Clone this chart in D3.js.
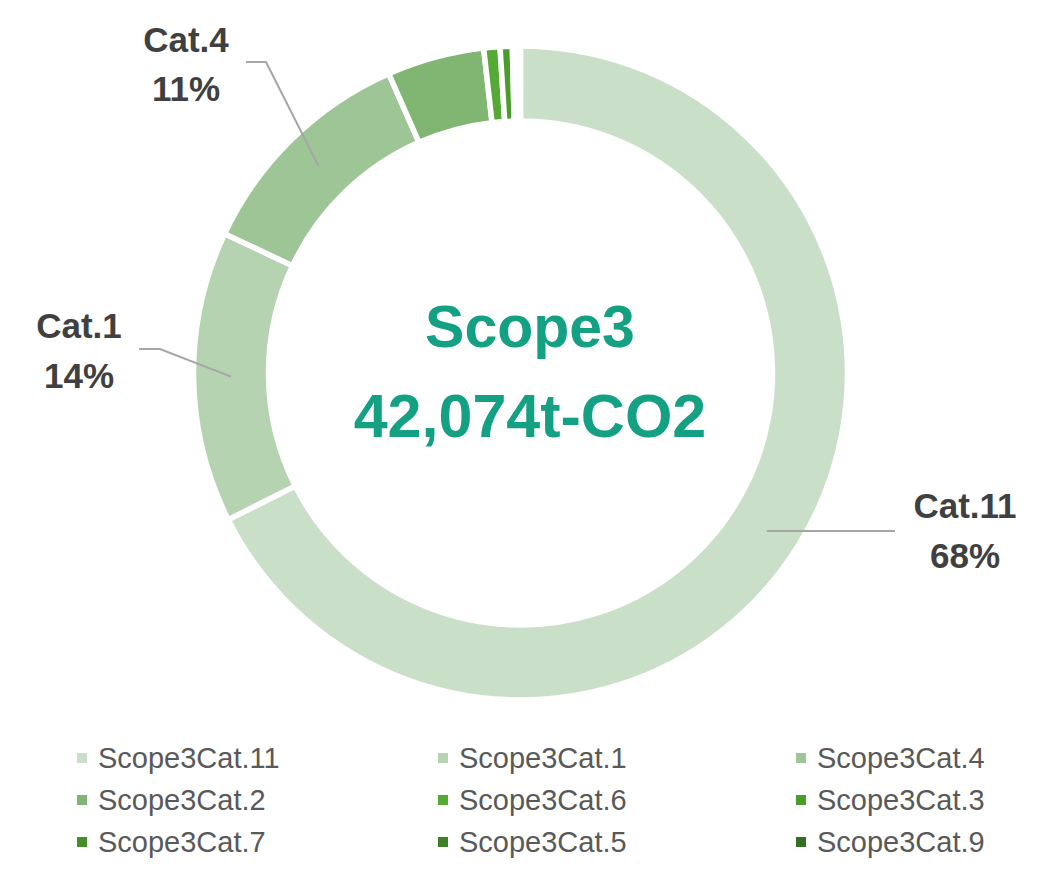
<!DOCTYPE html>
<html>
<head>
<meta charset="utf-8">
<script src="https://cdn.jsdelivr.net/npm/d3@7/dist/d3.min.js"></script>
<style>
  html, body { margin: 0; padding: 0; background: #ffffff; }
  svg { display: block; }
</style>
</head>
<body>
<div id="chart"></div>
<script>
// ---- data ----
const categories = ["Scope3Cat.11", "Scope3Cat.1", "Scope3Cat.4", "Scope3Cat.2", "Scope3Cat.6", "Scope3Cat.3", "Scope3Cat.7", "Scope3Cat.5", "Scope3Cat.9"];
const values = [28442, 6059, 4796, 2020, 337, 252, 80, 55, 33];
const colors = ["#cadfc8", "#b5d3b1", "#9dc595", "#80b672", "#55aa35", "#4a9d2d", "#448f29", "#3d8026", "#336f22"];
const centerTitle = "Scope3";
const centerTotal = "42,074t-CO2";
// labelled slices (others unlabeled)
const labelled = ["Scope3Cat.11", "Scope3Cat.1", "Scope3Cat.4"];

// ---- layout ----
const W = 1054, H = 888;
const cx = 520.5, cy = 373;
const rOuter = 327, rInner = 252;
const labelLayout = {
  "Scope3Cat.11": { startY: 531, elbow: [895, 531], end: [895, 531], tx: 965, ty1: 518, ty2: 568 },
  "Scope3Cat.1":  { elbow: [160, 349], end: [139, 349], tx: 79,  ty1: 338, ty2: 388 },
  "Scope3Cat.4":  { elbow: [266, 62],  end: [246, 62],  tx: 186, ty1: 52,  ty2: 101 }
};

const svg = d3.select("#chart").append("svg")
  .attr("width", W).attr("height", H);

const data = categories.map((c, i) => ({ name: c, value: values[i], color: colors[i] }));
const total = d3.sum(values);

const pie = d3.pie().sort(null).value(d => d.value);
const arcs = pie(data);
const arc = d3.arc().innerRadius(rInner).outerRadius(rOuter);
const midArc = d3.arc().innerRadius((rInner + rOuter) / 2).outerRadius((rInner + rOuter) / 2);

const g = svg.append("g").attr("transform", `translate(${cx},${cy})`);
g.selectAll("path.slice").data(arcs).enter().append("path")
  .attr("class", "slice")
  .attr("d", arc)
  .attr("fill", d => d.data.color)
  .attr("stroke", "#ffffff")
  .attr("stroke-width", 5.5)
  .attr("stroke-linejoin", "miter");

// center text
svg.append("text")
  .attr("x", 530).attr("y", 347)
  .attr("text-anchor", "middle")
  .attr("font-family", "Liberation Sans, Arial, sans-serif")
  .attr("font-weight", "bold")
  .attr("font-size", 59)
  .attr("fill", "#14a083")
  .text(centerTitle);
svg.append("text")
  .attr("x", 530).attr("y", 437)
  .attr("text-anchor", "middle")
  .attr("font-family", "Liberation Sans, Arial, sans-serif")
  .attr("font-weight", "bold")
  .attr("font-size", 61)
  .attr("fill", "#14a083")
  .text(centerTotal);

// labels + leader lines
const fmtPct = v => Math.round(v / total * 100) + "%";
arcs.filter(a => labelled.includes(a.data.name)).forEach(a => {
  const L = labelLayout[a.data.name];
  const c = midArc.centroid(a);
  const start = [cx + c[0], L.startY !== undefined ? L.startY : cy + c[1]];
  svg.append("polyline")
    .attr("points", [start, L.elbow, L.end].map(p => p.join(",")).join(" "))
    .attr("fill", "none")
    .attr("stroke", "#a6a6a6")
    .attr("stroke-width", 2);
  const t = svg.append("g")
    .attr("font-family", "Liberation Sans, Arial, sans-serif")
    .attr("font-weight", "bold")
    .attr("font-size", 35)
    .attr("fill", "#404040")
    .attr("text-anchor", "middle");
  t.append("text").attr("x", L.tx).attr("y", L.ty1).text(a.data.name.replace("Scope3", ""));
  t.append("text").attr("x", L.tx).attr("y", L.ty2).text(fmtPct(a.data.value));
});

// legend
const colX = [77, 438, 796];
const rowY = [758, 800, 842];
const leg = svg.append("g")
  .attr("font-family", "Liberation Sans, Arial, sans-serif")
  .attr("font-size", 29)
  .attr("fill", "#595959");
data.forEach((d, i) => {
  const x = colX[i % 3], y = rowY[Math.floor(i / 3)];
  leg.append("rect").attr("x", x).attr("y", y - 5).attr("width", 10).attr("height", 10).attr("fill", d.color);
  leg.append("text").attr("x", x + 21).attr("y", y).attr("dominant-baseline", "central").text(d.name);
});
</script>
</body>
</html>
